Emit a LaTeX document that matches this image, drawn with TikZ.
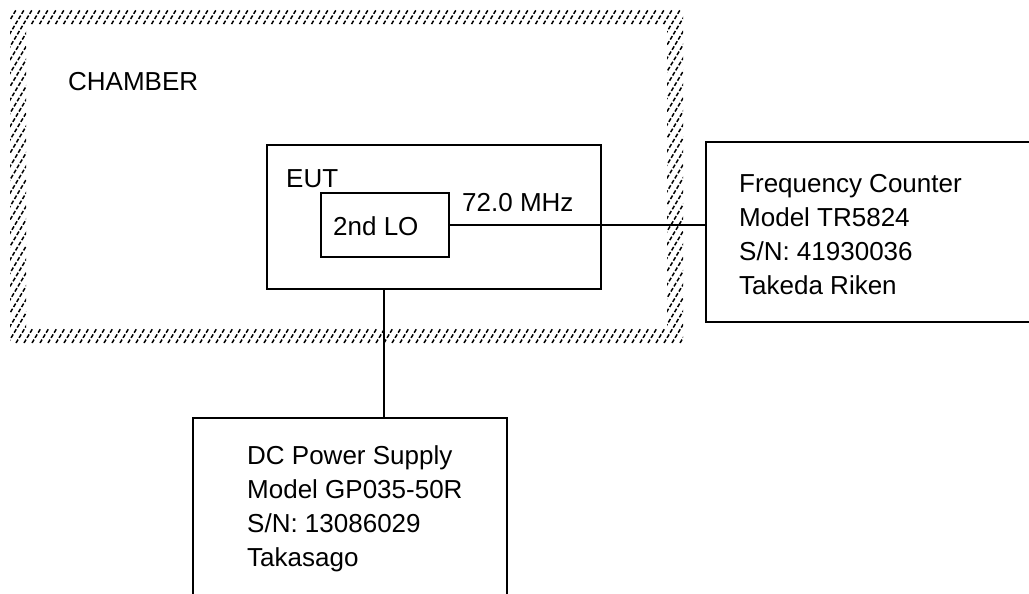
\documentclass[tikz,border=0pt]{standalone}
\usepackage{fontspec}
\setmainfont{Liberation Sans}
\begin{document}
\begin{tikzpicture}[x=1pt,y=-1pt,
  box/.style={draw=black, line width=1.6pt, inner sep=0pt, outer sep=0pt},
  lbl/.style={anchor=base west, inner sep=0pt, font=\fontsize{26}{34}\selectfont},
  wire/.style={draw=black, line width=1.6pt},
  hatch/.style={line width=1.5pt, dash pattern=on 4pt off 2pt}]
\useasboundingbox (0,0) rectangle (1029,594);
% hatched chamber wall
\begin{scope}[even odd rule]
  \clip (10,10) rectangle (683,343) (26,25) rectangle (667,328);
  \foreach \k in {0,8,...,920} {
    \draw[hatch] (\k-200,343) -- (\k,10);
  }
\end{scope}
\node[lbl] (chamber) at (68,91) {CHAMBER};
% EUT
\node[box, anchor=north west, minimum width=334pt, minimum height=144pt] (eut) at (267,145) {};
\node[lbl] (eutl) at (286,187) {EUT};
\node[box, anchor=north west, minimum width=128pt, minimum height=64pt] (lo) at (321,193) {};
\node[lbl] (lol) at (333,235) {2nd LO};
\node[lbl] (freqlbl) at (462,211) {72.0 MHz};
% Frequency counter (open on the right)
\node[inner sep=0pt, outer sep=0pt, anchor=north west, minimum width=340pt, minimum height=180pt] (fc) at (706,142) {};
\draw[wire] (fc.north east) -- (fc.north west) -- (fc.south west) -- (fc.south east);
\coordinate (fcin) at (fc.west |- lo.east);
\node[lbl] (fc1) at (739,192) {Frequency Counter};
\node[lbl] (fc2) at (739,226) {Model TR5824};
\node[lbl] (fc3) at (739,260) {S/N: 41930036};
\node[lbl] (fc4) at (739,294) {Takeda Riken};
% DC power supply (open at the bottom)
\node[inner sep=0pt, outer sep=0pt, anchor=north west, minimum width=314pt, minimum height=190pt] (dc) at (193,418) {};
\draw[wire] (dc.south west) -- (dc.north west) -- (dc.north east) -- (dc.south east);
\node[lbl] (dc1) at (247,464) {DC Power Supply};
\node[lbl] (dc2) at (247,498) {Model GP035-50R};
\node[lbl] (dc3) at (247,532) {S/N: 13086029};
\node[lbl] (dc4) at (247,566) {Takasago};
% connectors
\draw[wire] (lo.east) -- (fcin);
\coordinate (eutb) at (384,289);
\coordinate (dct) at (384,418);
\draw[wire] (eutb) -- (dct);
\end{tikzpicture}
\end{document}
